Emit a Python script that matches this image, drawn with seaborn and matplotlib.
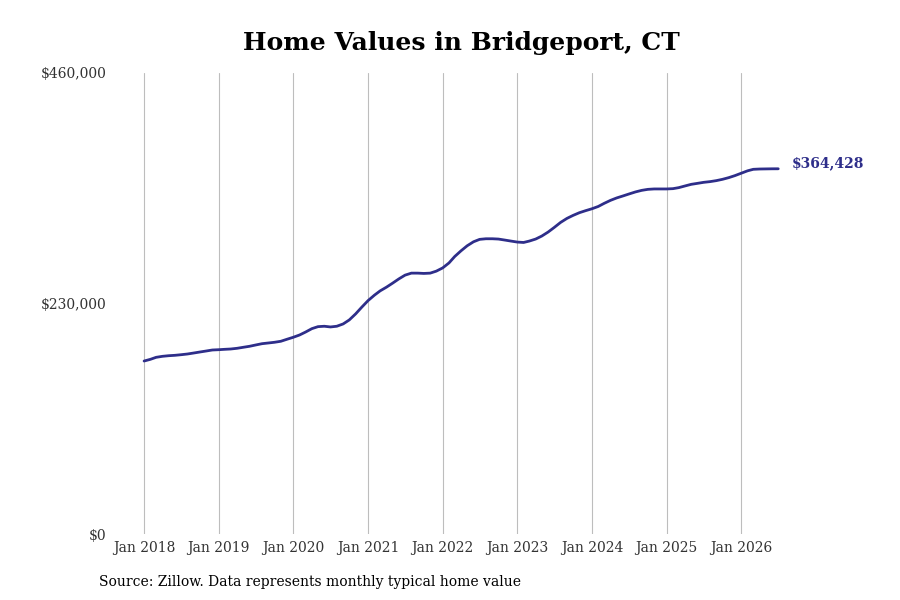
import matplotlib
matplotlib.use("Agg")
import matplotlib.pyplot as plt
import matplotlib.dates as mdates
import matplotlib.ticker as mticker
import numpy as np
import pandas as pd
import seaborn as sns

# monthly typical home value, Jan 2018 .. Jul 2026 (in $1000)
values_2018 = [172.6, 174.3, 176.3, 177.3, 177.9, 178.3, 178.9, 179.6, 180.6, 181.6, 182.6, 183.6]
values_2019 = [183.9, 184.3, 184.6, 185.3, 186.3, 187.3, 188.6, 189.9, 190.6, 191.3, 192.3, 194.3]
values_2020 = [196.3, 198.6, 201.5, 204.9, 206.9, 207.3, 206.6, 207.3, 209.6, 213.6, 219.6, 226.3]
values_2021 = [232.9, 238.3, 242.6, 246.3, 250.3, 254.6, 258.3, 260.3, 260.3, 260.0, 260.3, 262.3]
values_2022 = [265.5, 270.5, 276.9, 282.6, 287.6, 291.6, 294.0, 294.6, 294.6, 294.3, 293.3, 292.3]
values_2023 = [291.3, 290.9, 292.3, 294.3, 297.3, 301.3, 305.9, 310.9, 314.9, 317.9, 320.6, 322.6]
values_2024 = [324.5, 326.8, 329.9, 332.9, 335.3, 337.3, 339.3, 341.3, 342.9, 343.9, 344.3, 344.3]
values_2025 = [344.3, 344.6, 345.6, 347.3, 348.9, 349.9, 350.9, 351.6, 352.6, 353.9, 355.6, 357.6]
values_2026 = [360.0, 362.4, 363.9, 364.2, 364.3, 364.4, 364.428]

values = (values_2018 + values_2019 + values_2020 + values_2021 + values_2022
          + values_2023 + values_2024 + values_2025 + values_2026)
dates = pd.date_range("2018-01-01", periods=len(values), freq="MS")
last_label = "$364,428"

x_ticks = pd.date_range("2018-01-01", "2026-01-01", freq="YS")
y_ticks = [0, 230000, 460000]

df = pd.DataFrame({"date": dates, "value": np.array(values) * 1000})

line_color = "#2e2e8a"

sns.set_theme(style="white")
plt.rcParams["font.family"] = ["DejaVu Serif"]

fig = plt.figure(figsize=(9, 6), dpi=100)
ax = fig.add_axes([112 / 900, 66 / 600, 758 / 900, 461 / 600])

sns.lineplot(data=df, x="date", y="value", ax=ax, color=line_color, linewidth=2.0)

ax.set_ylim(0, 460000)
ax.set_xlim(pd.Timestamp("2017-07-28"), pd.Timestamp("2027-09-23"))
ax.set_yticks(y_ticks)
ax.yaxis.set_major_formatter(mticker.FuncFormatter(lambda v, p: f"${v:,.0f}"))
ax.set_xticks(x_ticks)
ax.xaxis.set_major_formatter(mdates.DateFormatter("Jan %Y"))

ax.grid(axis="x", color="#bdbdbd", linewidth=0.8)
ax.grid(axis="y", visible=False)
for s in ax.spines.values():
    s.set_visible(False)
ax.tick_params(axis="both", length=0, labelsize=10, labelcolor="#333333")
ax.tick_params(axis="x", pad=5)
ax.tick_params(axis="y", pad=4)
ax.set_xlabel("")
ax.set_ylabel("")

ax.annotate(last_label, xy=(df["date"].iloc[-1], df["value"].iloc[-1]),
            xytext=(10, 4), textcoords="offset points", ha="left", va="center",
            fontsize=10, fontweight="bold", color=line_color)

fig.text(461 / 900, 1 - 43 / 600, "Home Values in Bridgeport, CT", ha="center", va="center",
         fontsize=18, fontweight="bold", color="black")
fig.text(99 / 900, 1 - 582 / 600, "Source: Zillow. Data represents monthly typical home value",
         ha="left", va="center", fontsize=10, color="black")

fig.savefig("out.png", dpi=100)
